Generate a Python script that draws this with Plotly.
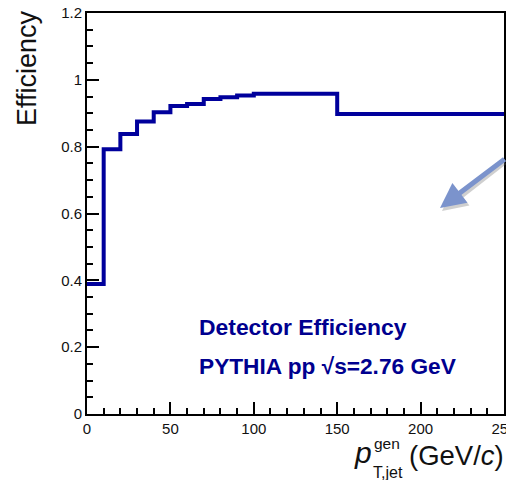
import plotly.graph_objects as go

# Data
bin_edges = [0, 10, 20, 30, 40, 50, 60, 70, 80, 90, 100, 110, 120, 130, 140, 150, 250]
efficiency = [0.389, 0.792, 0.838, 0.875, 0.903, 0.922, 0.928, 0.943, 0.948, 0.953,
              0.958, 0.958, 0.958, 0.958, 0.958, 0.898]
y_tickvals = [0, 0.2, 0.4, 0.6, 0.8, 1.0, 1.2]
y_ticktext = ["0", "0.2", "0.4", "0.6", "0.8", "1", "1.2"]
x_tickvals = [0, 50, 100, 150, 200, 250]
x_ticktext = ["0", "50", "100", "150", "200", "250"]

W, H = 506, 480
ML, MR, MT, MB = 87, 2, 13, 66
PW, PH = W - ML - MR, H - MT - MB

def px(x):
    return (x - ML) / PW

def py(y):
    return (H - MB - y) / PH

LINE = "#00009c"
FONT = "Liberation Sans, Arial, Helvetica, sans-serif"

fig = go.Figure()
fig.add_trace(go.Scatter(
    x=bin_edges,
    y=efficiency + [efficiency[-1]],
    mode="lines",
    line=dict(color=LINE, width=4, shape="hv"),
    hoverinfo="skip",
    showlegend=False,
))

axis_common = dict(
    showgrid=False, zeroline=False, showline=True, linecolor="black", linewidth=2,
    mirror=True, ticks="inside", ticklen=12, tickwidth=2, tickcolor="black",
    tickfont=dict(family=FONT, size=15, color="#111"),
    ticklabeloverflow="allow", automargin=False,
)

fig.update_xaxes(range=[0, 250], tickvals=x_tickvals, ticktext=x_ticktext,
                 minor=dict(dtick=10, ticklen=6, tickwidth=2, tickcolor="black", ticks="inside"),
                 **axis_common)
fig.update_yaxes(range=[0, 1.2], tickvals=y_tickvals, ticktext=y_ticktext,
                 minor=dict(dtick=0.05, ticklen=6, tickwidth=2, tickcolor="black", ticks="inside"),
                 **axis_common)

ann = []
# y-axis title
ann.append(dict(text="Efficiency", xref="paper", yref="paper", x=px(27), y=py(8),
                xanchor="center", yanchor="top", textangle=-90, showarrow=False,
                font=dict(family=FONT, size=27, color="#111")))
# x-axis title pieces
ann.append(dict(text="(GeV/<i>c</i>)", xref="paper", yref="paper", x=px(506), y=py(455),
                xanchor="right", yanchor="middle", showarrow=False,
                font=dict(family=FONT, size=27.5, color="#111")))
ann.append(dict(text="<i>p</i>", xref="paper", yref="paper", x=px(374), y=py(452),
                xanchor="right", yanchor="middle", showarrow=False,
                font=dict(family=FONT, size=30, color="#111")))
ann.append(dict(text="gen", xref="paper", yref="paper", x=px(372), y=py(443),
                xanchor="left", yanchor="middle", showarrow=False,
                font=dict(family=FONT, size=15.5, color="#111")))
ann.append(dict(text="T,jet", xref="paper", yref="paper", x=px(371), y=py(472),
                xanchor="left", yanchor="middle", showarrow=False,
                font=dict(family=FONT, size=16, color="#111")))
# Text labels
ann.append(dict(text="<b>Detector Efficiency</b>", xref="paper", yref="paper", x=px(197), y=py(327),
                xanchor="left", yanchor="middle", showarrow=False,
                font=dict(family=FONT, size=22.9, color="#00008f")))
ann.append(dict(text="<b>PYTHIA pp \u221As=2.76 GeV</b>", xref="paper", yref="paper", x=px(197), y=py(366),
                xanchor="left", yanchor="middle", showarrow=False,
                font=dict(family=FONT, size=22.7, color="#00008f")))
# Arrow shadow and arrow
for dx, dy, col in [(2, 3, "rgba(120,120,120,0.35)"), (0, 0, "#7b93cc")]:
    ann.append(dict(text="", xref="x", yref="y",
                    x=(440 + dx - ML) / PW * 250, y=(H - MB - (208 + dy)) / PH * 1.2,
                    ax=68, ay=-50, axref="pixel", ayref="pixel",
                    showarrow=True, arrowhead=2, arrowsize=1.0, arrowwidth=5,
                    arrowcolor=col))

fig.update_layout(
    width=W, height=H, margin=dict(l=ML, r=MR, t=MT, b=MB, autoexpand=False),
    paper_bgcolor="white", plot_bgcolor="white",
    annotations=ann, showlegend=False,
)

fig.write_html("out.html")
